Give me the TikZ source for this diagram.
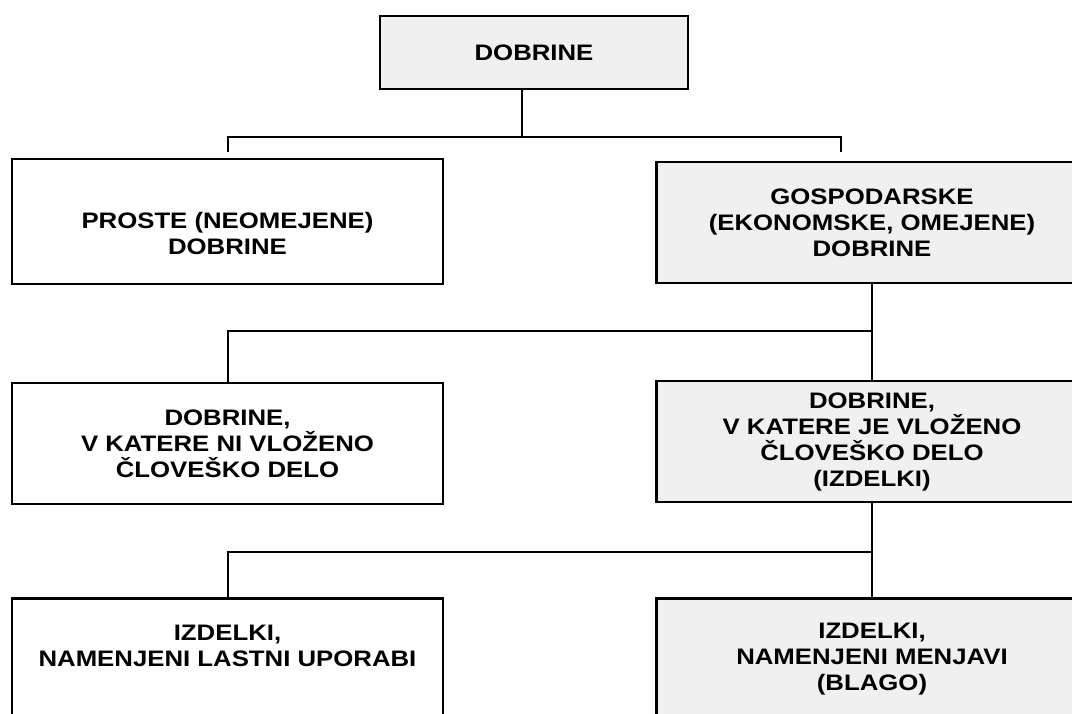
\documentclass[tikz,border=0pt]{standalone}
\usepackage{fontspec}
\setmainfont{Liberation Sans}[FakeStretch=1.15]
\usetikzlibrary{positioning,calc}

\begin{document}
\begin{tikzpicture}[x=0.5pt,y=-0.5pt,
    box/.style={draw, line width=1.3pt, align=center, inner sep=0pt,
        minimum width=215.5pt, minimum height=60.5pt,
        font=\bfseries\fontsize{11.2pt}{13pt}\selectfont},
    shaded/.style={box, fill=black!6},
    link/.style={line width=1pt}]
    \useasboundingbox (0,0) rectangle (1072,713);
    \clip (0,0) rectangle (1072,713);

    % Top level
    \node [shaded, minimum width=154pt, minimum height=36.5pt] (dobrine) at (534,52.5) {DOBRINE};

    % Second level
    \node [box, minimum height=62.5pt] (proste) at (227.5,221.5) {\rule{0pt}{20pt}PROSTE (NEOMEJENE)\\DOBRINE};
    \node [shaded] (gosp) at (872,222.5) {GOSPODARSKE\\(EKONOMSKE, OMEJENE)\\DOBRINE};

    % Third level
    \node [box] (brezdela) at (227.5,443.5) {DOBRINE,\\V KATERE NI VLOŽENO\\ČLOVEŠKO DELO};
    \node [shaded] (izdelki) at (872,441.5) {DOBRINE,\\V KATERE JE VLOŽENO\\ČLOVEŠKO DELO\\(IZDELKI)};

    % Fourth level
    \node [box] (uporaba) at (227.5,659) {IZDELKI,\\NAMENJENI LASTNI UPORABI\\\mbox{}};
    \node [shaded] (blago) at (872,659) {IZDELKI,\\NAMENJENI MENJAVI\\(BLAGO)};

    % Connectors
    \coordinate (fork) at (522,137);
    \draw [link] (dobrine.south -| fork) -- (fork);
    \draw [link] ([yshift=3pt]proste.north) |- (fork) -| ([xshift=-15.5pt,yshift=4.5pt]gosp.north);

    \draw [link] (gosp.south) -- (izdelki.north);
    \draw [link] (gosp.south) ++(0,47) -| (brezdela.north);

    \draw [link] (izdelki.south) -- (blago.north);
    \draw [link] (izdelki.south) ++(0,49) -| (uporaba.north);
\end{tikzpicture}
\end{document}
